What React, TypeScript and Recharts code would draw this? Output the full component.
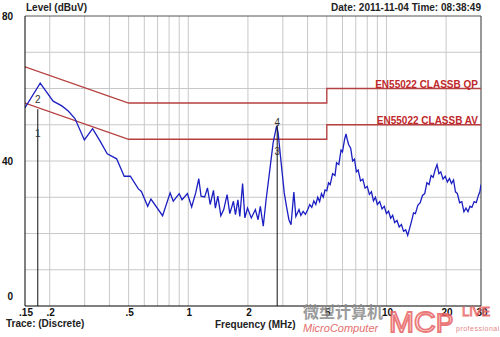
import {
  LineChart,
  Line,
  XAxis,
  YAxis,
  ReferenceLine,
  ReferenceDot,
} from "recharts";

// frequency (MHz), level (dBuV)
const trace: [number, number][] = [
  [0.15, 54.7], [0.179, 61.5], [0.208, 56.5], [0.23, 55.2], [0.248, 53.8],
  [0.268, 51.7], [0.299, 45.8], [0.329, 48.9], [0.359, 45.5], [0.39, 42.0],
  [0.435, 40.6], [0.475, 35.8], [0.51, 35.8], [0.56, 32.3], [0.58, 31.6],
  [0.624, 27.5], [0.648, 29.5], [0.742, 24.9], [0.81, 31.2], [0.84, 28.9],
  [0.9, 31.0], [0.93, 29.3], [0.99, 31.0], [1.04, 27.3], [1.09, 31.2],
  [1.13, 35.1], [1.16, 30.3], [1.21, 30.1], [1.25, 32.6], [1.29, 28.0],
  [1.34, 31.9], [1.37, 27.0], [1.41, 30.3], [1.46, 24.9], [1.51, 26.6],
  [1.57, 30.7], [1.62, 25.5], [1.69, 28.9], [1.73, 25.2], [1.78, 29.3],
  [1.82, 24.7], [1.88, 33.8], [1.93, 24.3], [1.99, 27.0], [2.08, 24.3],
  [2.18, 26.6], [2.25, 23.8], [2.31, 27.5], [2.39, 22.0], [2.47, 29.3],
  [2.58, 37.6], [2.68, 45.0], [2.79, 49.6], [2.84, 47.8], [2.93, 40.4],
  [3.05, 31.2], [3.13, 27.5], [3.22, 23.8], [3.3, 22.4], [3.41, 31.4],
  [3.49, 24.7], [3.62, 26.6], [3.7, 25.0], [3.8, 26.1], [3.9, 25.3],
  [4.0, 26.5], [4.1, 28.0], [4.2, 27.2], [4.3, 29.0], [4.4, 28.0],
  [4.5, 30.0], [4.6, 28.8], [4.7, 31.0], [4.8, 30.0], [4.9, 32.0],
  [5.0, 31.8], [5.1, 34.0], [5.2, 33.5], [5.35, 36.5], [5.5, 36.0],
  [5.6, 39.5], [5.75, 39.0], [5.9, 43.0], [6.0, 42.5], [6.15, 46.0],
  [6.25, 47.5], [6.35, 45.8], [6.45, 44.5], [6.6, 43.5], [6.75, 40.0],
  [6.9, 40.5], [7.05, 37.0], [7.2, 37.5], [7.4, 34.5], [7.6, 35.0],
  [7.8, 32.5], [8.0, 33.0], [8.2, 30.8], [8.4, 31.5], [8.6, 29.0],
  [8.8, 30.0], [9.0, 28.0], [9.25, 28.8], [9.5, 26.8], [9.75, 27.5],
  [10.0, 25.5], [10.25, 26.2], [10.5, 24.2], [10.75, 25.0], [11.0, 23.0],
  [11.3, 23.6], [11.6, 21.8], [11.9, 22.5], [12.2, 20.6], [12.5, 21.0],
  [12.8, 19.5], [13.1, 21.5], [13.4, 23.5], [13.7, 25.7], [14.0, 25.5],
  [14.4, 27.8], [14.8, 28.5], [15.2, 30.5], [15.6, 31.0], [16.0, 34.0],
  [16.4, 33.5], [16.8, 36.0], [17.2, 35.5], [17.6, 37.5], [18.0, 39.0],
  [18.4, 36.5], [18.8, 37.0], [19.3, 35.0], [19.8, 35.8], [20.3, 34.2],
  [20.8, 35.2], [21.3, 33.8], [21.8, 34.8], [22.3, 31.5], [22.8, 31.0],
  [23.4, 28.5], [24.0, 28.8], [24.6, 26.0], [25.2, 27.0], [25.8, 26.0],
  [26.4, 27.5], [27.0, 27.2], [27.7, 28.8], [28.4, 28.5], [29.1, 30.5],
  [29.6, 31.5], [30.0, 33.5],
];

const qpLimit: [number, number][] = [[0.15, 66], [0.5, 56], [5, 56], [5, 60], [30, 60]];
const avLimit: [number, number][] = [[0.15, 56], [0.5, 46], [5, 46], [5, 50], [30, 50]];

const xTicks = [0.15, 0.2, 0.5, 1, 2, 5, 10, 20, 30];
const xTickLabels = [".15", ".2", ".5", "1", "2", "5", "10", "20", "30"];
const xGrid = [0.2, 0.3, 0.4, 0.5, 0.6, 0.7, 0.8, 0.9, 1, 2, 3, 4, 5, 6, 7, 8, 9, 10, 20];
const yTicks = [0, 40, 80];
const yGrid = [10, 20, 30, 40, 50, 60, 70];

// markers: frequency, top of line, labels
const markers = [
  { f: 0.174, top: 54.3, labels: [{ t: "2", y: 57.0 }, { t: "1", y: 47.6 }] },
  { f: 2.81, top: 50.0, labels: [{ t: "4", y: 50.6 }, { t: "3", y: 42.6 }] },
];

const toRows = (pts: [number, number][]) => pts.map(([f, v]) => ({ f, v }));

const font = "'Liberation Sans', Arial, sans-serif";

const XTick = (props: any) => {
  const { x, y, payload } = props;
  const i = xTicks.indexOf(payload.value);
  return (
    <text x={x + 1} y={y + 2} textAnchor="middle" fontSize={10} fontWeight="bold" fill="#111" fontFamily={font}>
      {i >= 0 ? xTickLabels[i] : payload.value}
    </text>
  );
};

const YTick = (props: any) => {
  const { x, y, payload } = props;
  const dy = payload.value === 0 ? -6 : 4;
  return (
    <text x={x - 4} y={y + dy} textAnchor="end" fontSize={10} fontWeight="bold" fill="#111" fontFamily={font}>
      {payload.value}
    </text>
  );
};

export default function App() {
  return (
    <div style={{ position: "absolute", left: 0, top: 0, width: 500, height: 337, background: "#fff", fontFamily: font }}>
      <LineChart width={500} height={337} margin={{ top: 16, right: 19, bottom: 0, left: 0 }}>
        <XAxis
          dataKey="f"
          type="number"
          scale="log"
          domain={[0.15, 30]}
          ticks={xTicks}
          allowDataOverflow
          height={31}
          tick={<XTick />}
          tickLine={false}
          axisLine={{ stroke: "#000" }}
          interval={0}
        />
        <YAxis
          type="number"
          domain={[0, 80]}
          ticks={yTicks}
          width={25}
          tick={<YTick />}
          tickLine={false}
          axisLine={{ stroke: "#000" }}
          interval={0}
        />
        {xGrid.map((g) => (
          <ReferenceLine key={"x" + g} x={g} stroke="#c8c8c8" strokeWidth={1} />
        ))}
        {yGrid.map((g) => (
          <ReferenceLine key={"y" + g} y={g} stroke="#c8c8c8" strokeWidth={1} />
        ))}
        <ReferenceLine y={80} stroke="#555" />
        <ReferenceLine x={30} stroke="#333" />
        <Line data={toRows(qpLimit)} dataKey="v" stroke="#b5403f" strokeWidth={1.3} dot={false} isAnimationActive={false} />
        <Line data={toRows(avLimit)} dataKey="v" stroke="#b5403f" strokeWidth={1.3} dot={false} isAnimationActive={false} />
        <Line data={toRows(trace)} dataKey="v" stroke="#1b1fc2" strokeWidth={1.3} dot={false} isAnimationActive={false} />
        {markers.map((m) => (
          <ReferenceLine
            key={"m" + m.f}
            segment={[{ x: m.f, y: 0 }, { x: m.f, y: m.top }]}
            stroke="#111"
            strokeWidth={1}
          />
        ))}
        {markers.flatMap((m) =>
          m.labels.map((l) => (
            <ReferenceDot
              key={"l" + m.f + l.t}
              x={m.f}
              y={l.y}
              r={1}
              fill="none"
              stroke="none"
              label={{ value: l.t, position: "center", fontSize: 10, fill: "#333", fontFamily: font }}
            />
          ))
        )}
      </LineChart>
      <svg width={500} height={337} style={{ position: "absolute", left: 0, top: 0, pointerEvents: "none" }}>
        <g fontFamily={font} fontWeight="bold" fontSize={10} fill="#222">
          <text x={26} y={11}>Level (dBuV)</text>
          <text x={481} y={11} textAnchor="end">Date: 2011-11-04  Time: 08:38:49</text>
          <text x={6} y={327}>Trace:  (Discrete)</text>
          <text x={215} y={328}>Frequency (MHz)</text>
          <text x={478} y={88} textAnchor="end" fill="#c0282b">EN55022 CLASSB QP</text>
          <text x={478} y={124} textAnchor="end" fill="#c0282b">EN55022 CLASSB AV</text>
        </g>
        <text x={303} y={318} fontSize={16} fontWeight="bold" fill="#8a8a8a" fontFamily="'Noto Sans CJK SC', sans-serif" opacity={0.85}>
          微型计算机
        </text>
        <text x={303} y={332} fontSize={11} fontStyle="italic" fill="#e05555" fontFamily={font} opacity={0.85}>
          MicroComputer
        </text>
        <text x={389} y={332} fontSize={30} fill="none" stroke="#e86262" strokeWidth={1.8} fontFamily={font} opacity={0.85}>
          MC
        </text>
        <text x={436} y={332} fontSize={26} fill="none" stroke="#e86262" strokeWidth={1.8} fontFamily={font} opacity={0.85}>
          P
        </text>
        <text x={462} y={316} fontSize={13} fill="none" stroke="#e86262" strokeWidth={1} fontFamily={font} opacity={0.85}>
          LIVE
        </text>
        <text x={456} y={331} fontSize={7} fill="#e07070" fontFamily={font} letterSpacing={0.5} opacity={0.85}>
          professional
        </text>
      </svg>
    </div>
  );
}
